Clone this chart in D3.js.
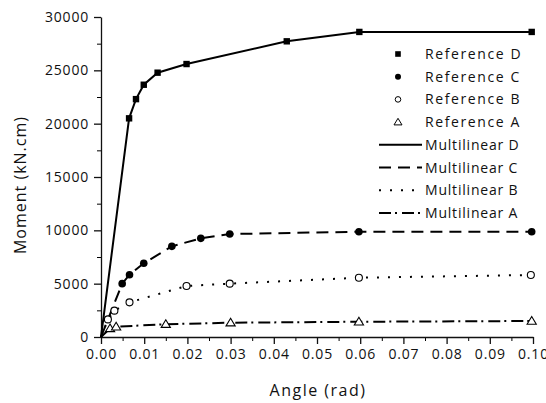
<!DOCTYPE html>
<html>
<head>
<meta charset="utf-8">
<script src="https://cdn.jsdelivr.net/npm/d3@7"></script>
<style>
  body { margin: 0; background: #fff; }
  text { font-family: "Open Sans", sans-serif; fill: #111; }
</style>
</head>
<body>
<svg id="chart" width="546" height="403"></svg>
<script>
// reference points (angle rad, moment kN.cm)
const refD = [[0.0065, 20500], [0.0081, 22300], [0.0099, 23650], [0.0131, 24780], [0.0198, 25590], [0.043, 27720], [0.0598, 28600], [0.0997, 28600]];
const refC = [[0.0049, 5000], [0.0066, 5840], [0.0099, 6910], [0.0164, 8500], [0.0231, 9250], [0.0298, 9650], [0.0597, 9870], [0.0997, 9870]];
const refB = [[0.0016, 1650], [0.0031, 2470], [0.0066, 3250], [0.0198, 4780], [0.0298, 5000], [0.0597, 5560], [0.0995, 5810]];
const refA = [[0.0021, 800], [0.0035, 960], [0.015, 1200], [0.03, 1340], [0.0597, 1430], [0.0997, 1500]];

// multilinear models
const multiD = [[0, 0], [0.0065, 20500], [0.0081, 22300], [0.0099, 23650], [0.0131, 24780], [0.0198, 25590], [0.043, 27720], [0.0598, 28600], [0.0997, 28600]];
const multiC = [[0, 0], [0.0049, 5000], [0.0066, 5840], [0.0099, 6910], [0.0164, 8500], [0.0231, 9250], [0.0298, 9650], [0.0597, 9870], [0.0997, 9870]];
const multiB = [[0, 0], [0.0016, 1650], [0.0031, 2470], [0.0066, 3250], [0.0198, 4780], [0.0298, 5000], [0.0597, 5560], [0.0995, 5810]];
const multiA = [[0, 0], [0.0021, 800], [0.0035, 960], [0.015, 1200], [0.03, 1340], [0.0597, 1430], [0.0997, 1500]];

const xTicks = [0, 0.01, 0.02, 0.03, 0.04, 0.05, 0.06, 0.07, 0.08, 0.09, 0.10];
const yTicks = [0, 5000, 10000, 15000, 20000, 25000, 30000];

const legendNames = ['Reference D', 'Reference C', 'Reference B', 'Reference A',
  'Multilinear D', 'Multilinear C', 'Multilinear B', 'Multilinear A'];

const svg = d3.select('#chart');
const M = { left: 101, top: 17, right: 13, bottom: 66 };
const W = 546 - M.left - M.right;
const H = 403 - M.top - M.bottom;

const x = d3.scaleLinear().domain([0, 0.1]).range([0, W]);
const y = d3.scaleLinear().domain([0, 30000]).range([H, 0]);

const g = svg.append('g').attr('transform', `translate(${M.left},${M.top})`);

// minor ticks
g.append('g')
  .attr('transform', `translate(0,${H})`)
  .call(d3.axisBottom(x).tickValues(d3.range(0.005, 0.1, 0.01)).tickSize(4).tickFormat(''))
  .call(a => a.select('.domain').remove());
g.append('g')
  .call(d3.axisLeft(y).tickValues(d3.range(2500, 30000, 5000)).tickSize(4).tickFormat(''))
  .call(a => a.select('.domain').remove());

// main axes
const xAxis = g.append('g')
  .attr('transform', `translate(0,${H})`)
  .call(d3.axisBottom(x).tickValues(xTicks).tickSize(7).tickPadding(5).tickSizeOuter(0).tickFormat(d3.format('.2f')));
const yAxis = g.append('g')
  .call(d3.axisLeft(y).tickValues(yTicks).tickSize(7).tickPadding(5).tickSizeOuter(0).tickFormat(d3.format('d')));

[xAxis, yAxis].forEach(a => {
  a.selectAll('path, line').attr('stroke', '#111').attr('stroke-width', 1.3);
  a.selectAll('text').attr('font-family', '"Open Sans", sans-serif').attr('font-size', 14)
    .attr('letter-spacing', 0.8).attr('fill', '#111');
});

// titles
svg.append('text')
  .attr('x', 318).attr('y', 396)
  .attr('text-anchor', 'middle').attr('font-size', 16).attr('letter-spacing', 1.5)
  .text('Angle (rad)');
svg.append('text')
  .attr('transform', 'translate(26,185) rotate(-90)')
  .attr('text-anchor', 'middle').attr('font-size', 16).attr('letter-spacing', 1)
  .text('Moment (kN.cm)');

// lines
const line = d3.line().x(d => x(d[0])).y(d => y(d[1]));
const styles = [
  { data: multiD, dash: null },
  { data: multiC, dash: '12,7' },
  { data: multiB, dash: '2,9' },
  { data: multiA, dash: '12,4,2,5' }
];
styles.forEach(s => {
  g.append('path')
    .datum(s.data)
    .attr('d', line)
    .attr('fill', 'none')
    .attr('stroke', '#000')
    .attr('stroke-width', 2)
    .attr('stroke-dasharray', s.dash);
});

// markers
function drawMarker(sel, kind) {
  if (kind === 'square') {
    sel.append('rect').attr('x', -3.2).attr('y', -3.2).attr('width', 6.4).attr('height', 6.4).attr('fill', '#000');
  } else if (kind === 'dot') {
    sel.append('circle').attr('r', 3.8).attr('fill', '#000');
  } else if (kind === 'open') {
    sel.append('circle').attr('r', 3.5).attr('fill', '#fff').attr('stroke', '#000').attr('stroke-width', 1.1);
  } else {
    sel.append('path').attr('d', 'M0,-4.5L4.6,3.2L-4.6,3.2Z').attr('fill', '#fff').attr('stroke', '#000').attr('stroke-width', 1.1);
  }
}
const refs = [[refD, 'square'], [refC, 'dot'], [refB, 'open'], [refA, 'tri']];
refs.forEach(([data, kind]) => {
  g.selectAll(null)
    .data(data)
    .enter()
    .append('g')
    .attr('transform', d => `translate(${x(d[0])},${y(d[1])})`)
    .each(function () { drawMarker(d3.select(this), kind); });
});

// legend
const leg = svg.append('g').attr('transform', 'translate(0,0)');
legendNames.forEach((name, i) => {
  const ly = 54 + i * 22.7;
  const row = leg.append('g').attr('transform', `translate(0,${ly})`);
  if (i < 4) {
    const mk = row.append('g').attr('transform', 'translate(398,0)');
    const kind = refs[i][1];
    if (kind === 'square') mk.append('rect').attr('x', -2.8).attr('y', -2.8).attr('width', 5.6).attr('height', 5.6).attr('fill', '#000');
    else if (kind === 'dot') mk.append('circle').attr('r', 3).attr('fill', '#000');
    else if (kind === 'open') mk.append('circle').attr('r', 2.8).attr('fill', '#fff').attr('stroke', '#000').attr('stroke-width', 1);
    else mk.append('path').attr('d', 'M0,-3.8L4,2.8L-4,2.8Z').attr('fill', '#fff').attr('stroke', '#000').attr('stroke-width', 1);
  } else {
    row.append('line')
      .attr('x1', 379).attr('x2', 422).attr('y1', 0).attr('y2', 0)
      .attr('stroke', '#000').attr('stroke-width', 2)
      .attr('stroke-dasharray', styles[i - 4].dash);
  }
  row.append('text')
    .attr('x', 425).attr('y', 5)
    .attr('font-size', 14).attr('letter-spacing', i < 4 ? 1.6 : 0.8)
    .text(name);
});
</script>
</body>
</html>
